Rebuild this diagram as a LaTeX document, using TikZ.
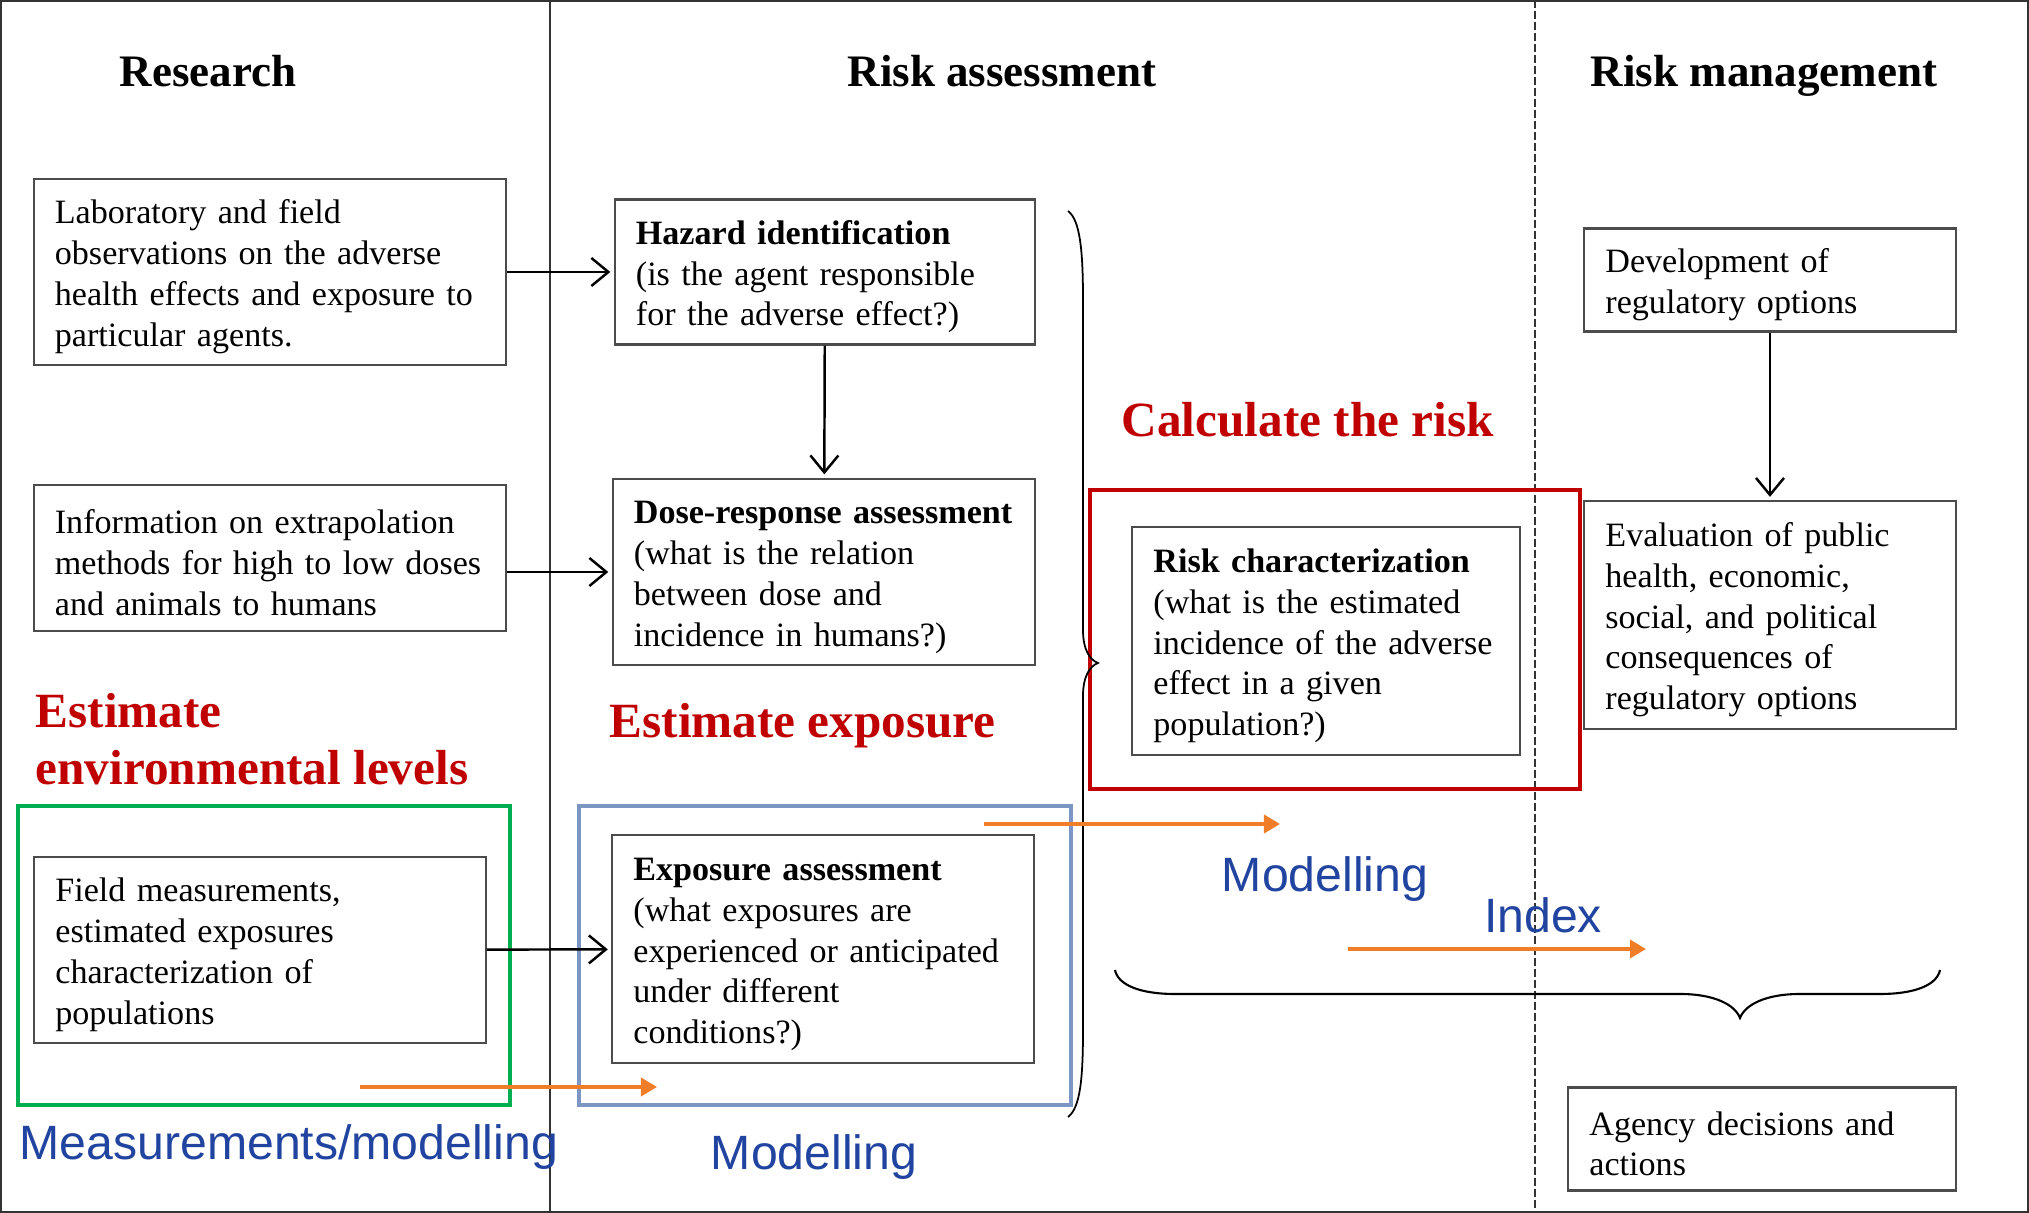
\documentclass[tikz,border=0pt]{standalone}
\usepackage{fontspec}
\setmainfont{Liberation Serif}
\setsansfont{Liberation Sans}
\usetikzlibrary{arrows.meta}
\definecolor{riskred}{RGB}{192,0,0}
\definecolor{levelgreen}{RGB}{0,176,80}
\definecolor{modelblue}{RGB}{124,150,196}
\definecolor{labelblue}{RGB}{32,68,160}
\definecolor{floworange}{RGB}{240,125,40}

\begin{document}
\begin{tikzpicture}[x=0.01cm,y=-0.01cm,>={Straight Barb[length=0.17cm,width=0.28cm]},
	box node/.style={draw=black!70,line width=0.6pt,fill=white,align=left,inner xsep=0.21cm,inner ysep=0pt,
		execute at begin node=\rule{0pt}{9.5pt},font=\fontsize{9.7}{11.6}\selectfont},
	head node/.style={anchor=base,font=\fontsize{12.8}{15}\selectfont\bfseries},
	red node/.style={anchor=base west,align=left,inner sep=0pt,text=riskred,font=\fontsize{14}{16.2}\selectfont\bfseries},
	blue node/.style={anchor=base,inner sep=0pt,text=labelblue,font=\sffamily\fontsize{13.7}{16}\selectfont},
	group box/.style={line width=1.1pt},
	link/.style={->,line width=0.7pt,shorten >=1pt},
	flow arrow/.style={draw=floworange,line width=1pt,-{Triangle[length=0.16cm,width=0.18cm]}}]
	\useasboundingbox (0,0) rectangle (2029,1213);
	\draw[black!80,line width=0.8pt] (1,1) rectangle (2028,1212);
	\draw[black!80,line width=0.6pt] (550,0) -- (550,1213);
	\draw[black!80,line width=0.5pt,dash pattern=on 0.08cm off 0.03cm] (1535,0) -- (1535,1213);
	
	\node[head node] (research) at (208,87) {Research};
	\node[head node] (assessment) at (1002,87) {Risk assessment};
	\node[head node] (management) at (1764,87) {Risk management};
	
	\draw[levelgreen,group box] (18,806) rectangle (510,1105);
	\draw[modelblue,group box] (579,806) rectangle (1071,1105);
	\draw[riskred,group box] (1090,490) rectangle (1580,789);
	
	\node[box node,text width=4.30cm,minimum height=1.86cm] (lab) at (270,272)
	{Laboratory and field\\observations on the adverse\\health effects and exposure to\\particular agents.};
	\node[box node,text width=4.30cm,minimum height=1.46cm] (info) at (270,558)
	{Information on extrapolation\\methods for high to low doses\\and animals to humans};
	\node[box node,text width=4.09cm,minimum height=1.86cm] (field) at (260,950)
	{Field measurements,\\estimated exposures\\characterization of\\populations};
	\node[box node,text width=3.78cm,minimum height=1.45cm] (hazard) at (825,272)
	{\textbf{Hazard identification}\\(is the agent responsible\\for the adverse effect?)};
	\node[box node,text width=3.80cm,minimum height=1.86cm] (dose) at (824,572)
	{\textbf{Dose-response assessment}\\(what is the relation\\between dose and\\incidence in humans?)};
	\node[box node,text width=3.79cm,minimum height=2.27cm] (exposure) at (823,949)
	{\textbf{Exposure assessment}\\(what exposures are\\experienced or anticipated\\under different\\conditions?)};
	\node[box node,text width=3.45cm,minimum height=2.27cm] (riskchar) at (1326,641)
	{\textbf{Risk characterization}\\(what is the estimated\\incidence of the adverse\\effect in a given\\population?)};
	\node[box node,text width=3.29cm,minimum height=1.03cm] (dev) at (1770,280)
	{Development of\\regulatory options};
	\node[box node,text width=3.29cm,minimum height=2.27cm] (eval) at (1770,615)
	{Evaluation of public\\health, economic,\\social, and political\\consequences of\\regulatory options};
	\node[box node,text width=3.45cm,minimum height=1.03cm] (agency) at (1762,1139)
	{Agency decisions and\\actions};
	
	\node[red node] (calc) at (1121,437) {Calculate the risk};
	\node[red node] (estexp) at (609,738) {Estimate exposure};
	\node[red node] (estenv1) at (35,728) {Estimate};
	\node[red node] (estenv2) at (35,785) {environmental levels};
	
	\node[blue node,anchor=base west] (measure) at (19,1160) {Measurements/modelling};
	\node[blue node] (model1) at (814,1170) {Modelling};
	\node[blue node] (model2) at (1325,892) {Modelling};
	\node[blue node] (index) at (1543,933) {Index};
	
	\path[link]
	(lab) edge (hazard)
	(info.east |- dose) edge (dose)
	(field) edge (exposure)
	(hazard) edge (dose)
	(dev) edge (eval);
	
	\draw[line width=0.5pt] (1068,211) .. controls (1080,220) and (1083,250) .. (1083,300)
	-- (1083,630) .. controls (1083,650) and (1090,660) .. (1098,663)
	.. controls (1090,666) and (1083,676) .. (1083,696)
	-- (1083,1030) .. controls (1083,1080) and (1080,1108) .. (1068,1117);
	\draw[line width=0.6pt] (1115,970) .. controls (1118,985) and (1140,994) .. (1175,994)
	-- (1680,994) .. controls (1715,994) and (1735,1005) .. (1740,1018)
	.. controls (1745,1005) and (1765,994) .. (1800,994)
	-- (1880,994) .. controls (1915,994) and (1937,985) .. (1940,970);
	
	\coordinate (fieldflow) at (360,1087);
	\coordinate (expflow) at (657,1087);
	\coordinate (modelstart) at (984,824);
	\coordinate (modelend) at (1280,824);
	\coordinate (indexstart) at (1348,949);
	\coordinate (indexend) at (1646,949);
	\draw[flow arrow] (fieldflow) -- (expflow);
	\draw[flow arrow] (modelstart) -- (modelend);
	\draw[flow arrow] (indexstart) -- (indexend);
\end{tikzpicture}
\end{document}
